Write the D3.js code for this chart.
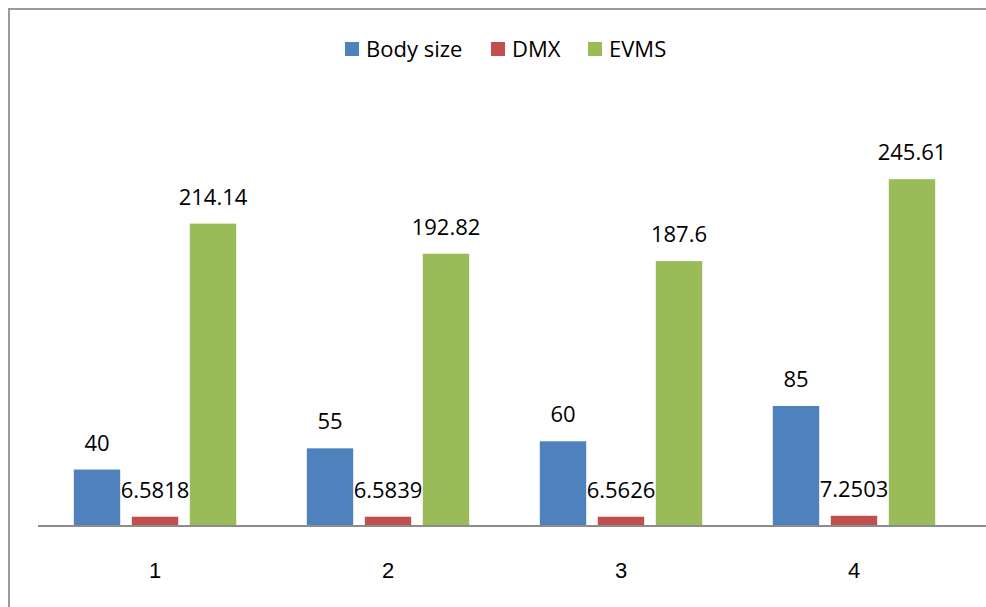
<!DOCTYPE html>
<html>
<head>
<meta charset="utf-8">
<script src="https://cdn.jsdelivr.net/npm/d3@7"></script>
<style>
  html, body { margin: 0; padding: 0; background: #fff; }
  svg { display: block; font-family: "Open Sans", "Liberation Sans", sans-serif; }
</style>
</head>
<body>
<svg id="chart" width="986" height="607"></svg>
<script>
'use strict';

// chart values
var categories = ['1', '2', '3', '4'];
var seriesNames = ['Body size', 'DMX', 'EVMS'];
var bodySize = [40, 55, 60, 85];
var dmx = [6.5818, 6.5839, 6.5626, 7.2503];
var evms = [214.14, 192.82, 187.6, 245.61];
var valueLabels = [
    ['40', '55', '60', '85'],
    ['6.5818', '6.5839', '6.5626', '7.2503'],
    ['214.14', '192.82', '187.6', '245.61']
];

var colors = ['#4F81BD', '#C0504D', '#9BBB59'];
var seriesValues = [bodySize, dmx, evms];

var svg = d3.select('#chart'),
    width = 986,
    height = 607,
    baseline = 526,
    fontSize = 22;

// outer frame (cropped on the right and bottom)
svg.append('path')
    .attr('d', 'M9,' + (height + 5) + 'V9H' + (width + 5))
    .attr('fill', 'none')
    .attr('stroke', '#9a9a9a')
    .attr('stroke-width', 2);

var x0 = d3.scaleBand()
    .domain(categories)
    .range([38.5, 970.5])
    .paddingInner(0.303)
    .paddingOuter(0.1515);

var x1 = d3.scaleBand()
    .domain(d3.range(seriesNames.length))
    .range([0, x0.bandwidth()])
    .paddingInner(0.2);

var y = d3.scaleLinear()
    .domain([0, 300])
    .range([baseline, 102.4]);

// flatten into one record per bar
var bars = [];
seriesValues.forEach(function(vals, s) {
    vals.forEach(function(v, i) {
        bars.push({s: s, cat: categories[i], value: v, label: valueLabels[s][i]});
    });
});

var g = svg.append('g');

g.selectAll('rect.bar')
    .data(bars)
    .enter().append('rect')
    .attr('class', 'bar')
    .attr('x', function(d) { return x0(d.cat) + x1(d.s); })
    .attr('y', function(d) { return y(d.value); })
    .attr('width', x1.bandwidth())
    .attr('height', function(d) { return baseline - y(d.value); })
    .attr('fill', function(d) { return colors[d.s]; });

g.selectAll('text.val')
    .data(bars)
    .enter().append('text')
    .attr('class', 'val')
    .attr('x', function(d) { return x0(d.cat) + x1(d.s) + x1.bandwidth() / 2; })
    .attr('y', function(d) { return y(d.value) - 19; })
    .attr('text-anchor', 'middle')
    .attr('font-size', fontSize)
    .attr('fill', '#000')
    .text(function(d) { return d.label; });

// category axis
var xAxis = d3.axisBottom(x0).tickSize(0).tickPadding(0);
var axisG = svg.append('g')
    .attr('transform', 'translate(0,' + baseline + ')')
    .call(xAxis);
axisG.select('.domain').remove();
axisG.append('line')
    .attr('x1', 38).attr('x2', width + 5)
    .attr('stroke', '#8c8c8c')
    .attr('stroke-width', 2);
axisG.selectAll('.tick text')
    .attr('dy', null)
    .attr('y', 52)
    .attr('font-size', fontSize)
    .attr('font-family', null)
    .attr('fill', '#000');

// legend
var legendItems = [
    {name: seriesNames[0], x: 345},
    {name: seriesNames[1], x: 491},
    {name: seriesNames[2], x: 588}
];
var legend = svg.append('g').selectAll('g')
    .data(legendItems)
    .enter().append('g')
    .attr('transform', function(d) { return 'translate(' + d.x + ',42)'; });

legend.append('rect')
    .attr('width', 14).attr('height', 14)
    .attr('fill', function(d, i) { return colors[i]; });

legend.append('text')
    .attr('x', 21).attr('y', 15)
    .attr('font-size', fontSize)
    .attr('fill', '#000')
    .text(function(d) { return d.name; });
</script>
</body>
</html>
